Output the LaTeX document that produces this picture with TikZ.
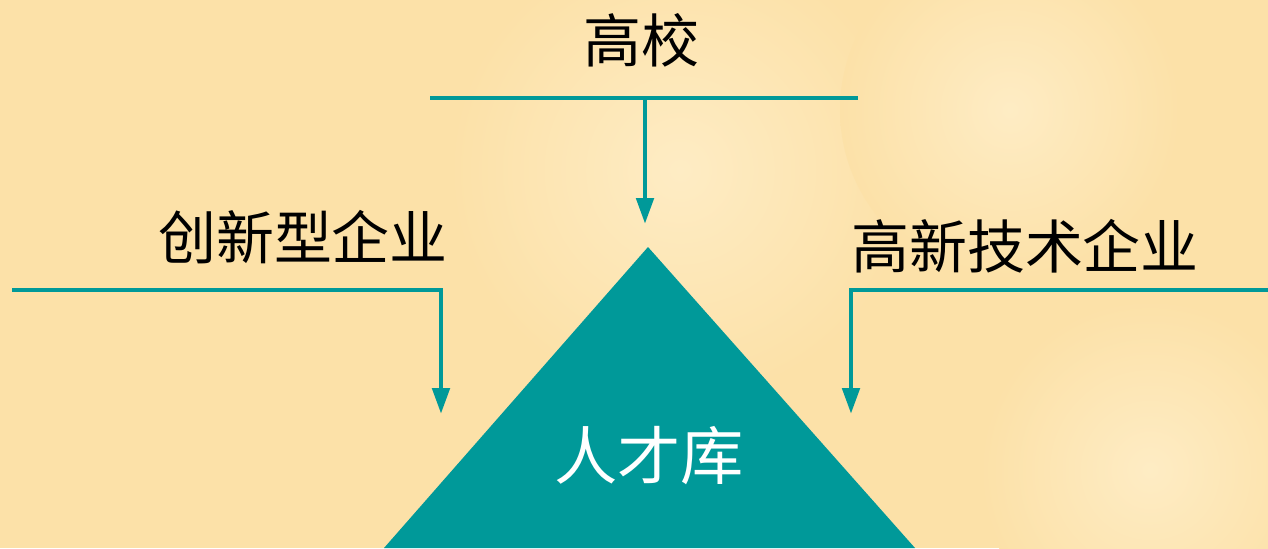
\documentclass[tikz,border=0pt]{standalone}
\usepackage{fontspec}
\newfontfamily\cjk{Noto Sans CJK SC}
\usepackage{tikz}
\usetikzlibrary{positioning,arrows.meta}
\definecolor{teal-a}{RGB}{0,153,153}
\definecolor{bg-a}{RGB}{252,225,168}
\definecolor{bg-b}{RGB}{254,236,196}

\begin{document}
\begin{tikzpicture}
[
x=0.02cm, y=-0.02cm,
line-a/.style={draw=teal-a, line width=2.8pt},
arrow-a/.style={line-a, -{Triangle[length=0.52cm, width=0.34cm]}},
text-a/.style={font=\cjk\fontsize{33}{33}\selectfont, inner sep=0pt},
text-b/.style={text-a, font=\cjk\fontsize{36}{36}\selectfont, text=white}
]
\useasboundingbox (0,0) rectangle (1268,548);
% background
\fill[bg-a] (0,0) rectangle (1268,548);
\shade[inner color=bg-b, outer color=bg-a] (680,170) circle (230);
\shade[inner color=bg-b, outer color=bg-a] (1010,110) circle (170);
\shade[inner color=bg-b, outer color=bg-a] (1150,470) circle (170);
% triangle
\coordinate (tri-top) at (648,247);
\coordinate (tri-bl)  at (384,548);
\coordinate (tri-br)  at (915,548);
\fill[teal-a] (tri-top) -- (tri-bl) -- (tri-br) -- cycle;
% labels
\node (gaoxiao)  [text-a] at (641,40)  {高校};
\node (chuangxin)[text-a] at (303,237) {创新型企业};
\node (gaoxin)   [text-a] at (1025,246){高新技术企业};
\node (rencai)   [text-b] at (649,456) {人才库};
% connector points
\coordinate (bar-t-l) at (430,98);
\coordinate (bar-t-r) at (858,98);
\coordinate (bar-t-m) at (645,98);
\coordinate (tip-t)   at (645,224);
\coordinate (bar-l-l) at (12,290);
\coordinate (bar-l-c) at (441,290);
\coordinate (tip-l)   at (441,414);
\coordinate (bar-r-r) at (1268,290);
\coordinate (bar-r-c) at (851,290);
\coordinate (tip-r)   at (851,414);
% connectors
\draw [line-a]  (bar-t-l) -- (bar-t-r);
\draw [arrow-a] (bar-t-m) -- (tip-t);
\draw [arrow-a] (bar-l-l) -- (bar-l-c) -- (tip-l);
\draw [arrow-a] (bar-r-r) -- (bar-r-c) -- (tip-r);
\end{tikzpicture}
\end{document}
